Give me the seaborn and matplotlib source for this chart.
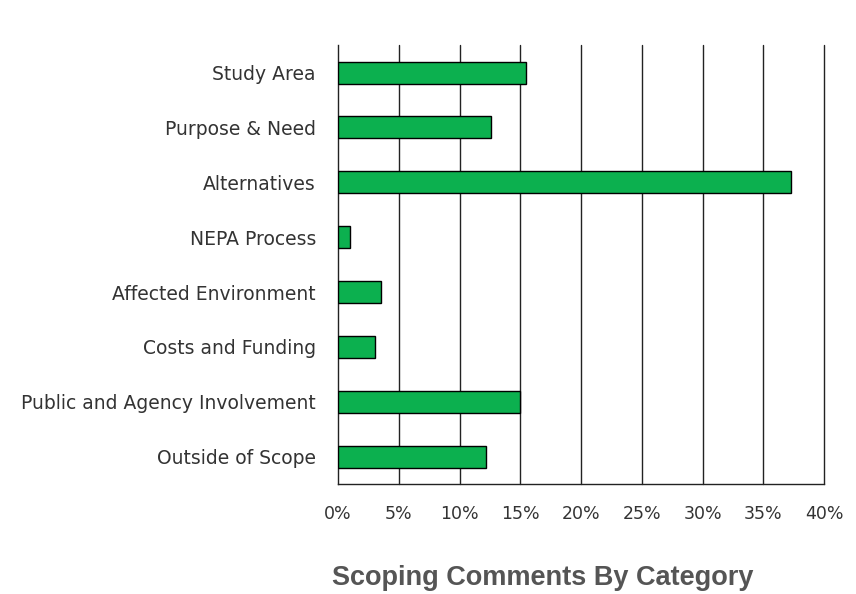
import numpy as np
import pandas as pd
import matplotlib
matplotlib.use('Agg')
import matplotlib.pyplot as plt
import seaborn as sns

# data
categories = ['Study Area', 'Purpose & Need', 'Alternatives', 'NEPA Process',
              'Affected Environment', 'Costs and Funding',
              'Public and Agency Involvement', 'Outside of Scope']
shares = [15.5, 12.6, 37.3, 1.0, 3.5, 3.0, 15.0, 12.2]
x_ticks = [0, 5, 10, 15, 20, 25, 30, 35, 40]
x_tick_labels = ['0%', '5%', '10%', '15%', '20%', '25%', '30%', '35%', '40%']

df = pd.DataFrame({'Category': categories, 'Share': shares})

sns.set_style('white')
plt.rcParams['font.family'] = ['DejaVu Sans']

fig = plt.figure(figsize=(8.56, 5.94), dpi=100)
ax = fig.add_axes([0.395, 0.185, 0.9626 - 0.395, 0.924 - 0.185])

sns.barplot(data=df, x='Share', y='Category', orient='h', color='#0CB04F',
            saturation=1, edgecolor='black', linewidth=1, width=0.4, ax=ax, zorder=3)

ax.set_xlim(0, 40)
ax.set_ylim(len(categories) - 0.5, -0.5)
ax.set_xticks(x_ticks)
ax.set_xticklabels(x_tick_labels)
ax.set_xlabel('')
ax.set_ylabel('')

# vertical gridlines
for t in x_ticks[1:]:
    ax.axvline(t, color='#222222', lw=1, zorder=1, clip_on=False)

for s in ['top', 'right']:
    ax.spines[s].set_visible(False)
for s in ['left', 'bottom']:
    ax.spines[s].set_color('#222222')
    ax.spines[s].set_linewidth(1)

# y ticks at category boundaries
ax.set_yticks(np.arange(-0.5, len(categories), 1), minor=True)
ax.tick_params(axis='y', which='major', length=0, pad=16, labelsize=13.5, labelcolor='#333333')
ax.tick_params(axis='y', which='minor', length=5, direction='out', color='#222222')
ax.tick_params(axis='x', which='major', length=5, direction='out', color='#222222',
               pad=10, labelsize=12.5, labelcolor='#333333')

fig.text(0.634, 1 - 565 / 594, 'Scoping Comments By Category', ha='center', va='top',
         fontsize=19.5, fontweight='bold', color='#555555', family=['Liberation Sans', 'DejaVu Sans'])

plt.savefig('out.png', dpi=100)
